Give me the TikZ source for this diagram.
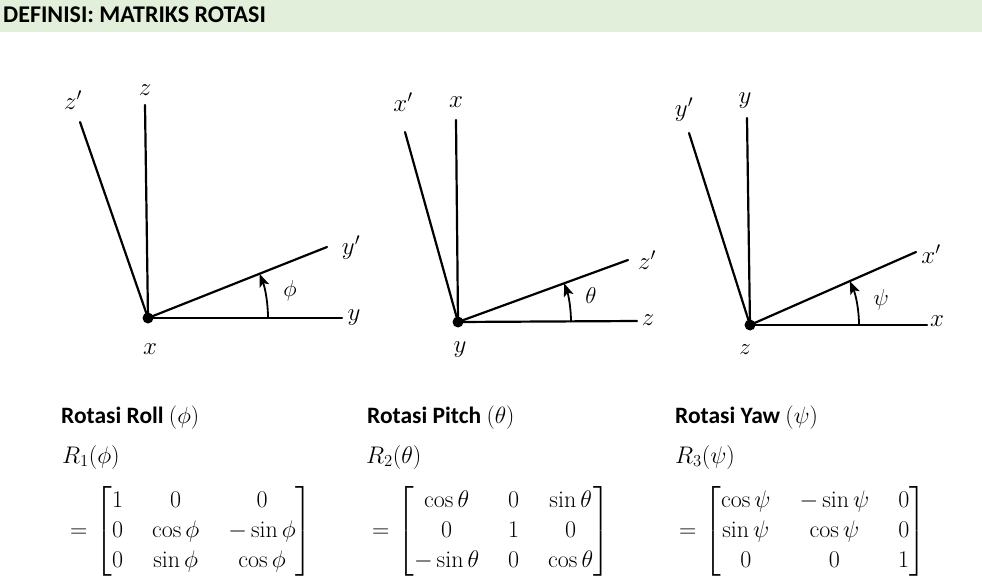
\documentclass[tikz,border=0pt]{standalone}
\usepackage{fix-cm}
\usepackage{amsmath}
\usepackage{fontspec}
\newfontfamily\carlito{Carlito}
\usetikzlibrary{arrows.meta}
\definecolor{band}{HTML}{E2EFDA}
\tikzset{
  ax/.style={line width=2.2pt, line cap=round},
  ang/.style={line width=1.8pt, -{Stealth[length=13pt,width=10pt,inset=3pt]}},
  lbl/.style={font=\fontsize{25}{28}\selectfont, inner sep=0pt},
  glbl/.style={font=\fontsize{23}{26}\selectfont, inner sep=0pt},
  head/.style={font=\carlito\bfseries\fontsize{23.5}{28}\selectfont, inner sep=0pt, anchor=base west},
  eq/.style={font=\fontsize{24}{30}\selectfont, inner sep=0pt, anchor=base west},
}
\begin{document}
\begin{tikzpicture}[x=1pt,y=-1pt]
\useasboundingbox (0,0) rectangle (982,583);
\fill[band] (0,0) rectangle (982,32);
\node[font=\carlito\bfseries\fontsize{24}{28}\selectfont, inner sep=0pt, anchor=base west] (title) at (3,22.5) {DEFINISI: MATRIKS ROTASI};

% ---- Diagram 1: Roll
\coordinate (o1) at (148,318);
\coordinate (z1) at (145,105);
\coordinate (zp1) at (80,122);
\coordinate (y1) at (342,318);
\coordinate (yp1) at (327,247);
\draw[ax] (o1) -- (z1);
\draw[ax] (o1) -- (zp1);
\draw[ax] (o1) -- (y1);
\draw[ax] (o1) -- (yp1);
\draw[ang] (o1) ++(120,0) arc[start angle=0, end angle=-21.6, radius=120];
\fill (o1) circle (5.5);
\node[lbl] (lz1) at (145,90) {$z$};
\node[lbl] (lzp1) at (73,100) {$z'$};
\node[lbl] (lyp1) at (351,248) {$y'$};
\node[lbl] (ly1) at (354,318) {$y$};
\node[lbl] (lx1) at (150,349) {$x$};
\node[glbl] (lphi) at (290,291) {$\phi$};

% ---- Diagram 2: Pitch
\coordinate (o2) at (458,322);
\coordinate (x2) at (456,120);
\coordinate (xp2) at (405,132);
\coordinate (z2) at (637,321);
\coordinate (zp2) at (628,260);
\draw[ax] (o2) -- (x2);
\draw[ax] (o2) -- (xp2);
\draw[ax] (o2) -- (z2);
\draw[ax] (o2) -- (zp2);
\draw[ang] (o2) ++(113,0) arc[start angle=0, end angle=-20, radius=113];
\fill (o2) circle (5.5);
\node[lbl] (lxp2) at (403,102) {$x'$};
\node[lbl] (lx2) at (456,102) {$x$};
\node[lbl] (lzp2) at (647,260) {$z'$};
\node[lbl] (lz2) at (648,320) {$z$};
\node[lbl] (ly2) at (460,350) {$y$};
\node[glbl] (ltheta) at (591,296) {$\theta$};

% ---- Diagram 3: Yaw
\coordinate (o3) at (750,325);
\coordinate (y3) at (747,118);
\coordinate (yp3) at (689,133);
\coordinate (x3) at (927,325);
\coordinate (xp3) at (916,252);
\draw[ax] (o3) -- (y3);
\draw[ax] (o3) -- (yp3);
\draw[ax] (o3) -- (x3);
\draw[ax] (o3) -- (xp3);
\draw[ang] (o3) ++(109,0) arc[start angle=0, end angle=-23.7, radius=109];
\fill (o3) circle (5.5);
\node[lbl] (lyp3) at (684,110) {$y'$};
\node[lbl] (ly3) at (745,101) {$y$};
\node[lbl] (lxp3) at (931,254) {$x'$};
\node[lbl] (lx3) at (937,321) {$x$};
\node[glbl] (lz3) at (745,350) {$z$};
\node[glbl] (lpsi) at (881,300) {$\psi$};

% ---- Headings
\node[head] (h1) at (61,423) {Rotasi Roll $(\phi)$};
\node[head] (h2) at (367,423) {Rotasi Pitch $(\theta)$};
\node[head] (h3) at (675,423) {Rotasi Yaw $(\psi)$};

% ---- Matrices
\arraycolsep=14.5pt
\node[eq] (r1) at (62,463) {$R_1(\phi)$};
\node[eq] (m1) at (70,537) {$=\mskip1mu\begin{bmatrix}1 & 0 & 0\\ 0 & \cos\phi & -\sin\phi\\ 0 & \sin\phi & \cos\phi\end{bmatrix}$};
\node[eq] (r2) at (366,463) {$R_2(\theta)$};
\node[eq] (m2) at (372,537) {$=\mskip1mu\begin{bmatrix}\cos\theta & 0 & \sin\theta\\ 0 & 1 & 0\\ -\sin\theta & 0 & \cos\theta\end{bmatrix}$};
\node[eq] (r3) at (675,463) {$R_3(\psi)$};
\node[eq] (m3) at (679,537) {$=\mskip1mu\begin{bmatrix}\cos\psi & -\sin\psi & 0\\ \sin\psi & \cos\psi & 0\\ 0 & 0 & 1\end{bmatrix}$};
\end{tikzpicture}
\end{document}
